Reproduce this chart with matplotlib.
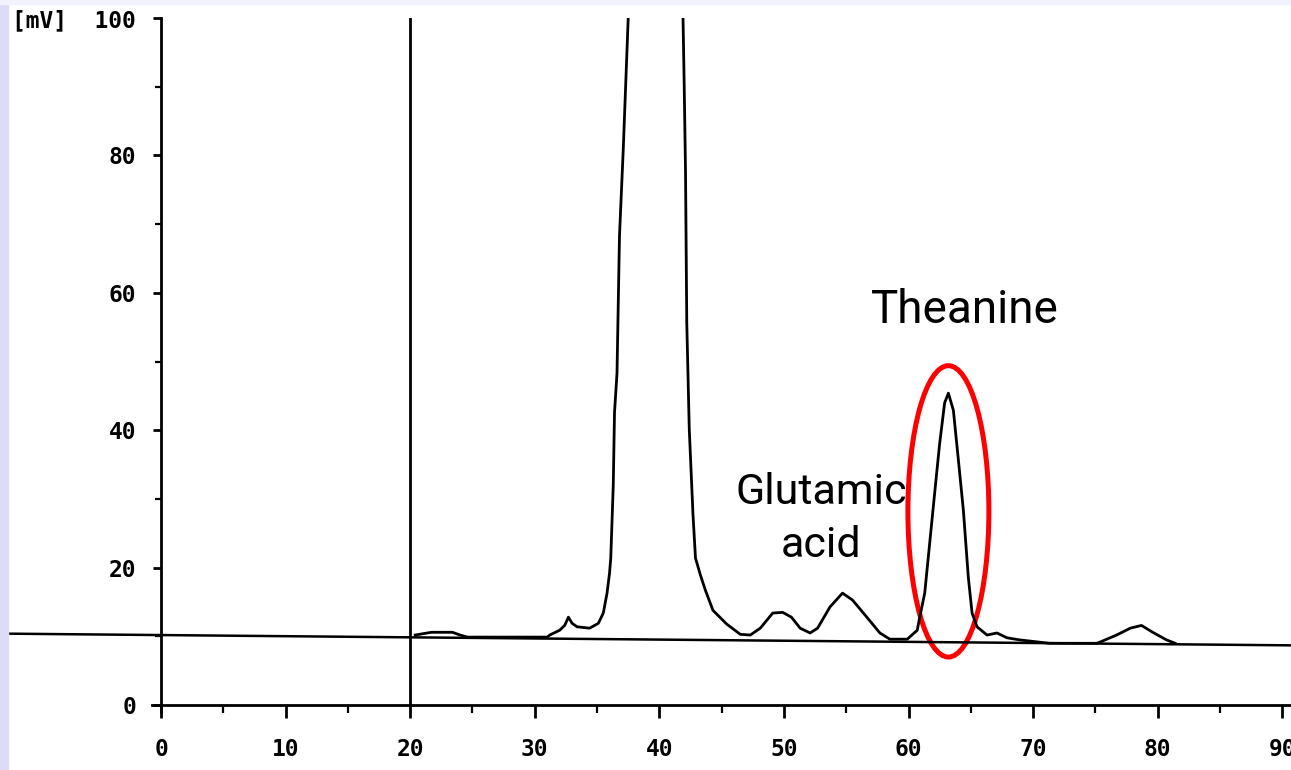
import matplotlib
matplotlib.use('Agg')
import matplotlib.pyplot as plt
from matplotlib.patches import Ellipse, Rectangle
import numpy as np

# trace (time, mV); the big peak runs off scale
trace_t = [20.4, 21.7, 23.4, 24.0, 24.6, 28.0, 31.0, 31.2, 32.0, 32.4, 32.7, 33.0, 33.4,
           34.4, 35.1, 35.5, 35.8, 36.0, 36.1, 36.3, 36.4, 36.6, 36.8, 37.1, 37.5,
           np.nan,
           41.9, 42.0, 42.1, 42.2, 42.4, 42.7, 42.9, 43.3, 43.7, 44.3, 45.4, 46.5, 47.3,
           48.1, 49.1, 49.9, 50.6, 51.3, 52.1, 52.7, 53.7, 54.7, 55.5, 56.7, 57.7, 58.5,
           59.9, 60.7, 60.9, 61.3, 61.7, 62.1, 62.5, 62.9, 63.2, 63.6, 64.0, 64.4, 64.8,
           65.1, 65.5, 66.3, 67.1, 67.9, 68.9, 71.3, 75.1, 75.4, 76.7, 77.8, 78.7, 79.6,
           80.7, 81.4]
trace_mv = [10.2, 10.6, 10.6, 10.2, 9.9, 9.9, 9.9, 10.2, 10.9, 11.6, 12.8, 11.9, 11.4,
            11.2, 11.9, 13.4, 16.3, 19.2, 21.4, 32.0, 42.6, 48.3, 68.3, 80.8, 100.0,
            np.nan,
            100.0, 89.5, 77.6, 55.7, 40.2, 27.7, 21.4, 18.9, 16.7, 13.8, 11.8, 10.3, 10.2,
            11.2, 13.4, 13.5, 12.8, 11.2, 10.5, 11.2, 14.3, 16.3, 15.3, 12.7, 10.5, 9.6,
            9.6, 10.9, 12.8, 16.3, 23.6, 30.9, 38.1, 44.0, 45.4, 42.9, 35.7, 28.4, 18.6,
            13.4, 11.4, 10.2, 10.5, 9.8, 9.5, 9.0, 9.0, 9.2, 10.2, 11.2, 11.6, 10.6,
            9.5, 9.0]

# drawn baseline and injection marker
baseline_t = [-12.3, 90.7]
baseline_mv = [10.4, 8.7]
inject_t = 20

xticks = [0, 10, 20, 30, 40, 50, 60, 70, 80, 90]
yticks = [0, 20, 40, 60, 80, 100]
ytick_labels = ['0', '20', '40', '60', '80', '[mV]  100']

fig = plt.figure(figsize=(12.91, 7.70), dpi=100)
fig.patches.append(Rectangle((0, 0), 8 / 1291, 1, transform=fig.transFigure,
                             color='#dcdcf8', zorder=0))
fig.patches.append(Rectangle((0, 1 - 4 / 770), 1, 4 / 770, transform=fig.transFigure,
                             color='#f2f2fc', zorder=0))

ax = fig.add_axes([152.3 / 1291, 1 - 712 / 770, (1291 - 152.3) / 1291, 694 / 770])
ax.set_xlim(-0.7, 90.7)
ax.set_ylim(-1, 100)

ax.plot(trace_t, trace_mv, color='black', lw=2.0, solid_joinstyle='round')
ax.plot(baseline_t, baseline_mv, color='black', lw=1.8, clip_on=False)
ax.plot([inject_t, inject_t], [0, 100], color='black', lw=2.0)

for s in ['top', 'right']:
    ax.spines[s].set_visible(False)
ax.spines['left'].set_position(('data', 0))
ax.spines['bottom'].set_position(('data', 0))
ax.spines['left'].set_bounds(-1, 100)
ax.spines['bottom'].set_bounds(-0.7, 90.7)
for s in ['left', 'bottom']:
    ax.spines[s].set_linewidth(2.0)

ax.set_xticks(xticks)
ax.set_xticks([5, 15, 25, 35, 45, 55, 65, 75, 85], minor=True)
ax.set_yticks(yticks)
ax.set_yticklabels(ytick_labels)
ax.set_yticks([10, 30, 50, 70, 90], minor=True)
ax.tick_params(axis='y', which='major', direction='out', length=6, width=2.0, pad=12)
ax.tick_params(axis='y', which='minor', direction='out', length=4, width=1.6)
ax.tick_params(axis='x', which='major', direction='out', length=9, width=2.0, pad=15)
ax.tick_params(axis='x', which='minor', direction='out', length=6, width=1.6)
for lab in ax.get_xticklabels() + ax.get_yticklabels():
    lab.set_fontfamily('DejaVu Sans Mono')
    lab.set_fontweight('bold')
    lab.set_fontsize(16.5)

narrow = ['Roboto', 'Liberation Sans', 'DejaVu Sans']
ax.text(64.5, 55.6, 'Theanine', family=narrow, fontsize=33, ha='center', va='baseline')
ax.text(53.0, 21.5, 'Glutamic\nacid', family=narrow, fontsize=31, ha='center',
        va='baseline', linespacing=1.38, multialignment='center')

ax.add_patch(Ellipse((63.2, 28.2), 6.5, 42.4, fill=False, ec='red', lw=3.6, clip_on=False))

fig.savefig('out.png', dpi=100)
